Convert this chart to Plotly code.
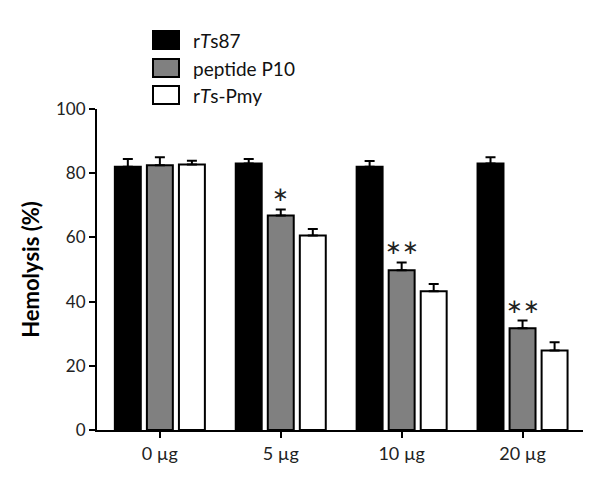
import plotly.graph_objects as go

# Hemolysis data
doses = ["0 µg", "5 µg", "10 µg", "20 µg"]
ts87 = [82.0, 83.0, 82.0, 83.0]
ts87_err = [2.4, 1.4, 1.8, 2.0]
p10 = [82.5, 66.8, 49.8, 31.7]
p10_err = [2.5, 1.9, 2.4, 2.4]
pmy = [82.7, 60.6, 43.2, 24.8]
pmy_err = [1.2, 2.0, 2.3, 2.5]
stars = ["", "*", "**", "**"]

font = "Lato, 'Open Sans', sans-serif"

series = [
    ("r<i>T</i>s87", ts87, ts87_err, "black"),
    ("peptide P10", p10, p10_err, "#808080"),
    ("r<i>T</i>s-Pmy", pmy, pmy_err, "white"),
]

fig = go.Figure()
for name, vals, errs, col in series:
    fig.add_trace(go.Bar(
        name=name,
        x=doses,
        y=vals,
        marker=dict(color=col, line=dict(color="black", width=2)),
        error_y=dict(type="data", symmetric=False, array=errs,
                     arrayminus=[0] * len(errs), color="black",
                     thickness=2, width=5),
        showlegend=False,
    ))

# significance marks above the P10 bars
for d, v, e, s in zip(doses, p10, p10_err, stars):
    if s:
        fig.add_annotation(x=d, y=v + e, text=s.replace("*", "∗"), showarrow=False,
                           yanchor="bottom", yshift=2,
                           font=dict(family=font, size=20, color="#222"))

# legend drawn by hand for the large swatches (page has an 8px body margin)
W, H = 600, 476
L, T, R, B = 89, 101, 25, 54
pw, ph = W - L - R, H - T - B
leg_y = [40, 68, 95]
for (name, _, _, col), yy in zip(series, leg_y):
    py = yy - 8
    fig.add_shape(type="rect", xref="paper", yref="paper",
                  x0=(153 - 8 - L) / pw, x1=(179 - 8 - L) / pw,
                  y0=(H - B - py + 9) / ph, y1=(H - B - py - 9) / ph,
                  fillcolor=col, line=dict(color="black", width=2))
    fig.add_annotation(xref="paper", yref="paper",
                       x=(191 - 8 - L) / pw, y=(H - B - py) / ph,
                       text=name, showarrow=False, xanchor="left",
                       yanchor="middle",
                       font=dict(family=font, size=19, color="#111"))

fig.update_layout(
    width=W, height=H,
    margin=dict(l=L, r=R, t=T, b=B),
    paper_bgcolor="white", plot_bgcolor="white",
    barmode="group", bargap=0.205, bargroupgap=0.19,
    font=dict(family=font, size=16, color="#222"),
)
fig.update_xaxes(
    range=[-0.52, 3.5], showline=True, linecolor="black", linewidth=2,
    ticks="outside", ticklen=6, tickwidth=2, tickcolor="black",
    tickfont=dict(size=18), showgrid=False,
)
fig.update_yaxes(
    range=[0, 100], tickvals=[0, 20, 40, 60, 80, 100],
    showline=True, linecolor="black", linewidth=2,
    ticks="outside", ticklen=6, tickwidth=2, tickcolor="black",
    tickfont=dict(size=17), showgrid=False, zeroline=False,
    title=dict(text="<b>Hemolysis (%)</b>", standoff=10,
               font=dict(size=22, color="black")),
)

fig.write_html("out.html")
